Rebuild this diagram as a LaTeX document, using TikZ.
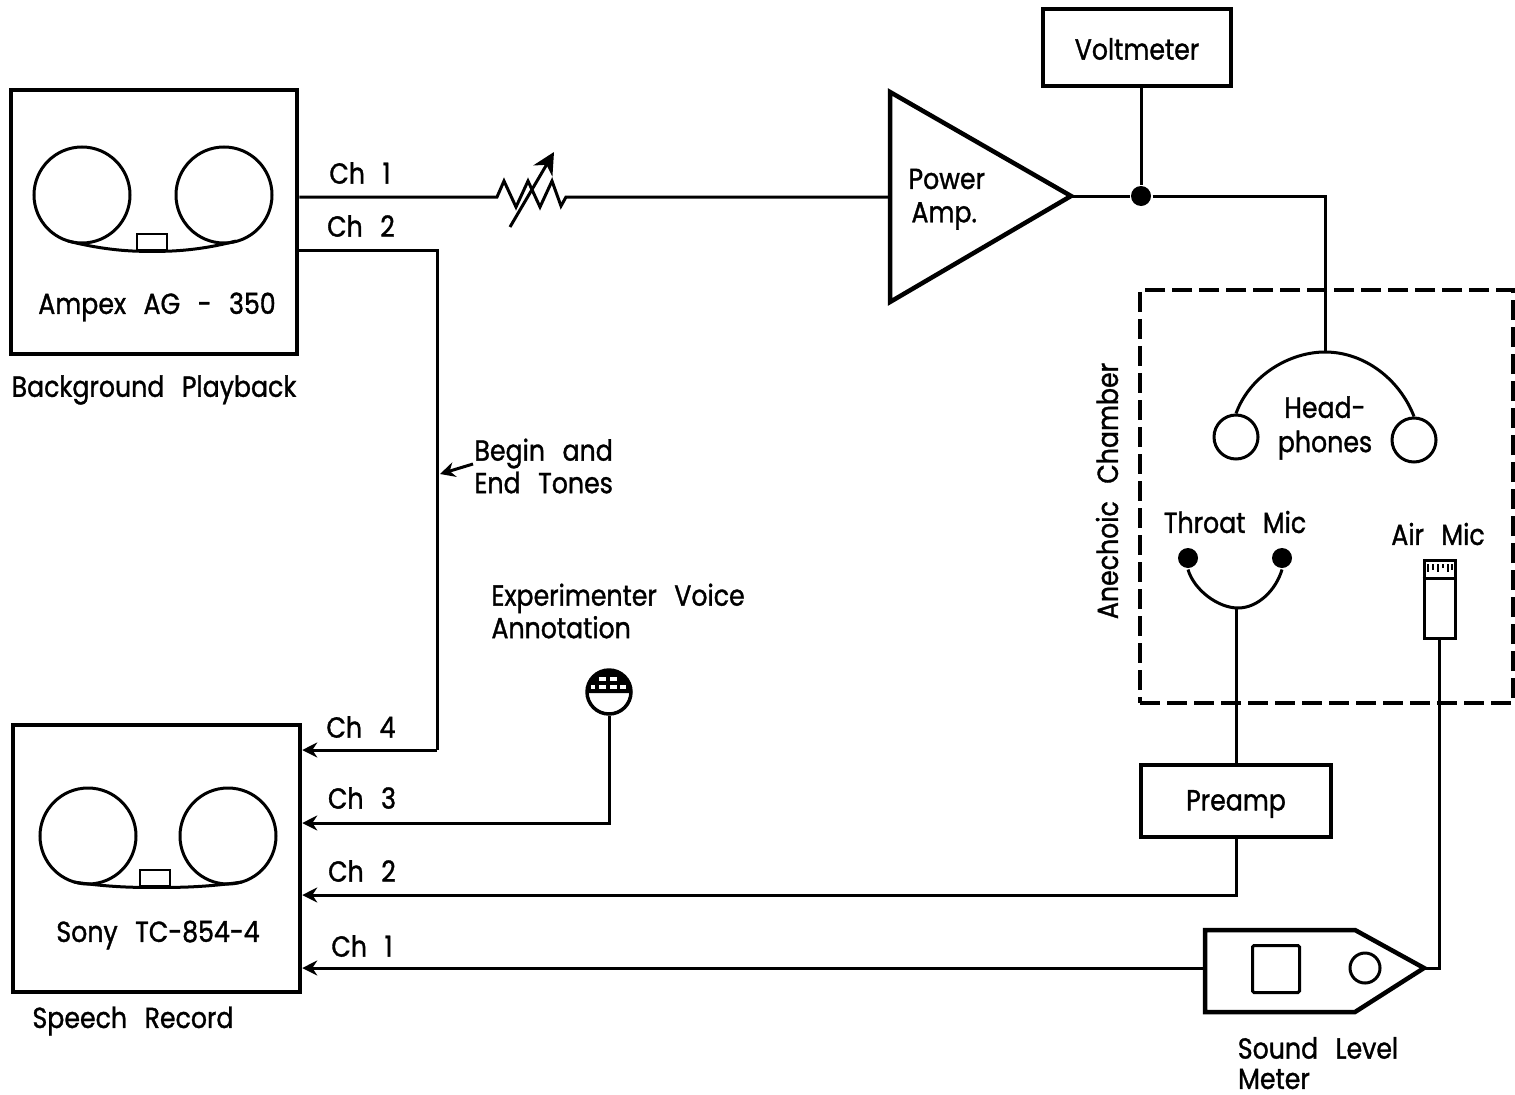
\documentclass[tikz,border=0pt]{standalone}
\usepackage{fontspec}
\setmainfont{Poppins}[FakeStretch=0.87, FakeBold=1.2, WordSpace=2.6]
\usetikzlibrary{arrows.meta}
\tikzset{lbl/.style={draw=none, fill=none, inner sep=0pt, font=\fontsize{16.5}{18.5}\selectfont},
  devbox/.style={draw, line width=0.9mm, inner sep=0pt, minimum width=#1},
  reel/.style={circle, draw, line width=0.6mm, minimum size=19.2mm, inner sep=0pt},
  ear/.style={circle, draw, line width=0.6mm, minimum size=8.8mm, inner sep=0pt},
  jackdot/.style={circle, fill, minimum size=4mm, inner sep=0pt},
  headbox/.style={draw, line width=0.5mm, minimum width=6mm, minimum height=3.2mm, inner sep=0pt}}
\begin{document}
\begin{tikzpicture}[x=0.2mm, y=-0.2mm, >={Stealth[length=3mm, width=3mm]}, line width=0.6mm]
  \useasboundingbox (0,0) rectangle (1515,1094);
  % tape machines
  \node[devbox=57.2mm, minimum height=52.8mm] (ampex) at (154,222) {};
  \node[devbox=57.4mm, minimum height=53.4mm] (sony) at (156.5,858.5) {};
  \node[reel] (ampexL) at (82,195) {};
  \node[reel] (ampexR) at (224,195) {};
  \node[headbox] (ampexH) at (152,242) {};
  \draw (68,241) .. controls (95,248) and (125,252) .. (ampexH.south)
    .. controls (180,252) and (210,248) .. (236,241);
  \node[reel] (sonyL) at (88,836) {};
  \node[reel] (sonyR) at (228,836) {};
  \node[headbox] (sonyH) at (155,878) {};
  \draw (74,882) .. controls (100,886) and (130,888) .. (sonyH.south)
    .. controls (185,888) and (215,886) .. (242,882);
  \node[lbl] (ampexname) at (157,307) {Ampex AG - 350};
  \node[lbl] (ampexrole) at (154,390) {Background Playback};
  \node[lbl] (sonyname) at (158,935) {Sony TC-854-4};
  \node[lbl] (sonyrole) at (133,1021) {Speech Record};
  % playback side
  \node[devbox=37.6mm, minimum height=15.4mm] (volt) at (1137,47.5) {};
  \node[lbl] (voltname) at (1137,49) {Voltmeter};
  \draw[line width=0.9mm, line join=miter] (890,92) -- (1071,196) -- (890,302) -- cycle;
  \coordinate (ampin) at (890,197);
  \coordinate (ampout) at (1071,196);
  \coordinate (resin) at (497,197);
  \coordinate (resout) at (566,197);
  \node[jackdot] (join) at (1141,196) {};
  \node[lbl, anchor=west] (ampname) at (907,179) {Power};
  \node[lbl, anchor=west] (ampname2) at (910,216) {Amp.};
  \draw (ampex.east |- resin) -- (resin) -- (504,181) -- (516,207) -- (528,181)
    -- (540,207) -- (552,181) -- (561,206) -- (resout) -- (ampin);
  \draw[->, >={Stealth[length=4.4mm, width=4.4mm]}] (510,227) -- (554,152);
  \draw (ampout) -- (join) -- (1325,196) -- (1325,352);
  \draw (volt.south -| join) -- (join);
  \node[lbl] (chA) at (360,173) {Ch 1};
  \node[lbl] (chB) at (361,226) {Ch 2};
  % chamber
  \node[draw, line width=0.8mm, dash pattern=on 4mm off 1.4mm, minimum width=74.6mm,
    minimum height=82.6mm, inner sep=0pt] (chamber) at (1326.5,496.5) {};
  \node[lbl, rotate=90] (chambername) at (1107,491) {Anechoic Chamber};
  \node[ear] (earL) at (1236,437) {};
  \node[ear] (earR) at (1414,440) {};
  \draw (earL.north) .. controls (1250,375) and (1290,352) .. (1325,352)
    .. controls (1365,352) and (1400,380) .. (earR.north);
  \node[lbl, align=center] (phones) at (1325,428) {Head-\\[1pt]phones};
  \node[lbl] (throatname) at (1235,522) {Throat Mic};
  \node[jackdot] (throatL) at (1188,558) {};
  \node[jackdot] (throatR) at (1282,558) {};
  \draw (throatL.south) .. controls (1194,590) and (1218,608) .. (1238,608)
    .. controls (1258,608) and (1276,590) .. (throatR.south);
  \node[lbl] (airname) at (1438,534) {Air Mic};
  \node[draw, minimum width=6.2mm, minimum height=15.6mm, inner sep=0pt] (airmic) at (1439.5,599) {};
  \draw (airmic.west |- 0,578) -- (airmic.east |- 0,578);
  \foreach \tx/\ty in {1428/572, 1433/570, 1438/572, 1443/568, 1448/572, 1452/570}
    \draw[line width=0.3mm] (\tx,564) -- (\tx,\ty);
  % record side
  \node[devbox=38mm, minimum height=14.4mm] (preamp) at (1236,801) {};
  \node[lbl] (preampname) at (1236,804) {Preamp};
  \coordinate (slmtip) at (1424,968);
  \draw[line width=0.9mm] (1205,930) -- (1355,930) -- (slmtip) -- (1355,1012) -- (1205,1012) -- cycle;
  \coordinate (slmin) at (1205,968);
  \node[draw, rounded corners=0.3mm, minimum size=9.4mm, inner sep=0pt] (slmface) at (1276,969) {};
  \node[circle, draw, minimum size=6mm, inner sep=0pt] (slmdial) at (1365,968) {};
  \node[lbl] (slmname) at (1318,1048) {Sound Level};
  \node[lbl] (slmname2) at (1274,1079) {Meter};
  \node[circle, draw, line width=0.7mm, minimum size=8.8mm, inner sep=0pt] (voicemic) at (609,692) {};
  \fill (587,693) arc[start angle=180, end angle=0, radius=4.4mm] -- cycle;
  \foreach \cx/\cy/\cw in {599/677/7, 610/677/7, 591/685/4, 599/685/7, 610/685/7, 620/685/6}
    \fill[white] (\cx,\cy) rectangle ++(\cw,4);
  \node[lbl, align=left, anchor=west] (voicename) at (490,611) {Experimenter Voice\\Annotation};
  \node[lbl, align=left, anchor=west] (tonename) at (473,466) {Begin and\\End Tones};
  \coordinate (tonetip) at (440,474);
  \draw[->] (tonename.west |- 0,464) -- (tonetip);
  % channels into the recorder
  \draw (ampex.east |- 0,250) -- (437,250) -- (437,750);
  \draw[->] (437,750) -- (sony.east |- 0,750);
  \draw[->] (voicemic.south) |- (sony.east |- 0,823);
  \draw[->] (preamp.south) |- (sony.east |- 0,895);
  \draw[->] (slmin) -- (sony.east |- slmin);
  \draw (preamp.north |- 0,608) -- (preamp.north);
  \draw (airmic.south) -- (airmic.south |- slmtip) -- (slmtip);
  \node[lbl] (chD) at (361,727) {Ch 4};
  \node[lbl] (chC) at (362,798) {Ch 3};
  \node[lbl] (chBB) at (362,871) {Ch 2};
  \node[lbl] (chAA) at (362,946) {Ch 1};
\end{tikzpicture}
\end{document}
